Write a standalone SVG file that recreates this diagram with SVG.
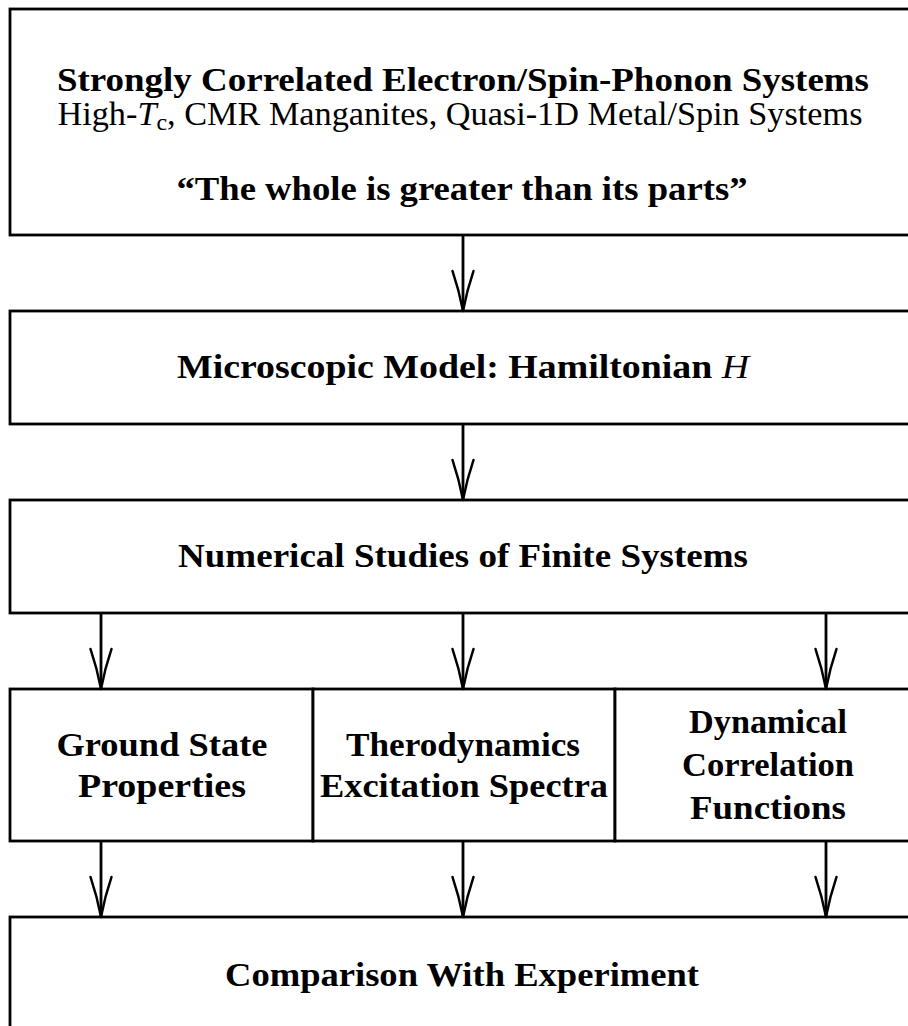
<svg xmlns="http://www.w3.org/2000/svg" width="908" height="1026" viewBox="0 0 908 1026">
<style>
.box{fill:#fff;stroke:#000;stroke-width:2.8}
.t{font-family:"Liberation Serif","Times New Roman",serif;font-size:33px;font-weight:bold;fill:#000;text-anchor:middle}
.r{font-weight:normal}
.i{font-style:italic;font-weight:normal}
.shaft{stroke:#000;stroke-width:2.8;fill:none}
.head{stroke:#000;stroke-width:2.4;fill:none;stroke-linecap:round;stroke-linejoin:round}
</style>
<rect width="908" height="1026" fill="#fff"/>
<g id="node-systems">
<rect class="box" x="10" y="9" width="906" height="226"/>
<text class="t" x="463" y="91" textLength="812" lengthAdjust="spacingAndGlyphs">Strongly Correlated Electron/Spin-Phonon Systems</text>
<text class="t r" x="460" y="125" textLength="805" lengthAdjust="spacingAndGlyphs">High-<tspan class="i">T</tspan><tspan font-size="23" dy="5">c</tspan><tspan dy="-5">, CMR Manganites, Quasi-1D Metal/Spin Systems</tspan></text>
<text class="t" x="462" y="200" textLength="571" lengthAdjust="spacingAndGlyphs">“The whole is greater than its parts”</text>
</g>
<g id="node-model">
<rect class="box" x="10" y="311" width="906" height="113"/>
<text class="t" x="463" y="378" textLength="572" lengthAdjust="spacingAndGlyphs">Microscopic Model: Hamiltonian <tspan class="i">H</tspan></text>
</g>
<g id="node-numerical">
<rect class="box" x="10" y="500" width="906" height="113"/>
<text class="t" x="463" y="567" textLength="570" lengthAdjust="spacingAndGlyphs">Numerical Studies of Finite Systems</text>
</g>
<g id="node-ground">
<rect class="box" x="10" y="689" width="303" height="152"/>
<text class="t" x="162" y="756" textLength="211" lengthAdjust="spacingAndGlyphs">Ground State</text>
<text class="t" x="162" y="797" textLength="168" lengthAdjust="spacingAndGlyphs">Properties</text>
</g>
<g id="node-thermo">
<rect class="box" x="313" y="689" width="302" height="152"/>
<text class="t" x="463" y="756" textLength="234" lengthAdjust="spacingAndGlyphs">Therodynamics</text>
<text class="t" x="464" y="797" textLength="288" lengthAdjust="spacingAndGlyphs">Excitation Spectra</text>
</g>
<g id="node-dynamical">
<rect class="box" x="615" y="689" width="301" height="152"/>
<text class="t" x="768" y="733" textLength="158" lengthAdjust="spacingAndGlyphs">Dynamical</text>
<text class="t" x="768" y="776" textLength="172" lengthAdjust="spacingAndGlyphs">Correlation</text>
<text class="t" x="768" y="819" textLength="156" lengthAdjust="spacingAndGlyphs">Functions</text>
</g>
<g id="node-comparison">
<rect class="box" x="10" y="917" width="906" height="113"/>
<text class="t" x="462" y="986" textLength="474" lengthAdjust="spacingAndGlyphs">Comparison With Experiment</text>
</g>
<g id="connectors">
<path class="shaft" d="M463 235V311M463 424V500M101 613V689M463 613V689M826 613V689M101 841V917M463 841V917M826 841V917"/>
<path class="head" d="M452.5 271Q459 290 463 311Q467 290 473.5 271M452.5 460Q459 479 463 500Q467 479 473.5 460M90.5 649Q97 668 101 689Q105 668 111.5 649M452.5 649Q459 668 463 689Q467 668 473.5 649M815.5 649Q822 668 826 689Q830 668 836.5 649M90.5 877Q97 896 101 917Q105 896 111.5 877M452.5 877Q459 896 463 917Q467 896 473.5 877M815.5 877Q822 896 826 917Q830 896 836.5 877"/>
</g>
</svg>
